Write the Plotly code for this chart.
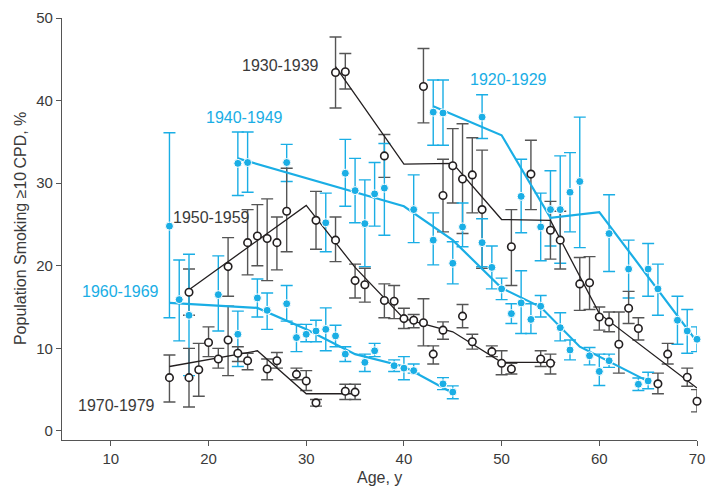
import plotly.graph_objects as go

BLUE = "#1aaee5"
BLACK = "#231f20"
GRAY = "#555555"

# ---------------- data (age, value, lower CI, upper CI) ----------------
age_1920 = [43, 44, 48, 52, 54, 55, 56, 57, 58, 61, 63, 65, 66, 68, 69, 70]
val_1920 = [38.6, 38.5, 38.0, 28.4, 24.7, 26.8, 26.8, 28.9, 30.2, 23.9, 19.6, 19.6, 17.2, 13.4, 12.1, 11.1]
lo_1920 = [34.6, 34.6, 35.4, 24.0, 20.6, 22.4, 20.3, 24.1, 22.2, 19.3, 16.1, 16.3, 14.0, 10.5, 9.4, 9.6]
hi_1920 = [42.5, 42.5, 40.7, 32.9, 28.8, 31.5, 33.3, 33.7, 38.0, 28.6, 23.1, 22.7, 20.2, 16.3, 14.7, 12.6]
fitx_1920 = [43, 50, 55, 60, 70]
fity_1920 = [39.3, 35.8, 25.8, 26.5, 10.8]

age_1930 = [33, 34, 38, 42, 44, 45, 46, 47, 48, 51, 53, 55, 56, 58, 59, 60, 61, 62, 63, 64, 66, 67, 69, 70]
val_1930 = [43.4, 43.5, 33.3, 41.7, 28.5, 32.1, 30.5, 31.0, 26.8, 22.3, 31.1, 24.3, 23.1, 17.8, 17.95, 13.8, 13.2, 10.5, 14.85, 12.4, 5.7, 9.3, 6.5, 3.6]
lo_1930 = [39.1, 41.4, 30.7, 37.3, 24.1, 27.6, 23.9, 26.4, 19.7, 17.6, 26.8, 20.8, 19.6, 14.6, 14.7, 12.2, 12.0, 7.0, 13.0, 11.0, 4.5, 8.1, 5.4, 2.3]
hi_1930 = [47.7, 45.7, 35.9, 46.3, 32.9, 36.6, 37.2, 35.5, 34.0, 26.8, 35.2, 27.8, 26.6, 21.0, 21.1, 15.0, 14.4, 14.4, 16.9, 13.7, 7.0, 10.6, 7.6, 5.0]
fitx_1930 = [33, 40, 45, 50, 55, 60, 70]
fity_1930 = [44.1, 32.3, 32.4, 25.6, 25.5, 14.2, 5.2]

age_1940 = [23, 24, 28, 32, 34, 35, 36, 37, 38, 41, 43, 45, 46, 48, 49, 50, 51, 52, 53, 54, 56, 57, 59, 60, 61, 64, 65]
val_1940 = [32.4, 32.5, 32.5, 25.2, 31.2, 29.1, 25.1, 28.7, 29.4, 26.8, 23.1, 20.3, 24.7, 22.8, 19.8, 17.2, 14.2, 15.5, 13.5, 15.1, 12.5, 9.8, 9.1, 7.2, 8.5, 5.65, 6.05]
lo_1940 = [28.5, 28.9, 30.2, 21.7, 27.2, 25.2, 19.9, 24.8, 23.7, 22.8, 20.1, 17.8, 22.3, 19.9, 17.2, 15.9, 13.0, 11.8, 11.8, 13.8, 10.9, 8.6, 8.0, 5.5, 7.7, 4.9, 5.1]
hi_1940 = [36.2, 36.2, 34.7, 28.8, 35.3, 33.0, 30.4, 32.5, 34.8, 31.0, 26.4, 22.9, 27.6, 25.7, 22.4, 18.5, 15.4, 19.4, 15.4, 16.4, 14.3, 11.0, 10.1, 9.3, 9.3, 6.4, 7.1]
fitx_1940 = [23, 40, 45, 50, 54, 58, 65]
fity_1940 = [33.0, 27.2, 23.1, 17.3, 15.0, 10.2, 6.0]

age_1950 = [18, 22, 24, 25, 26, 27, 28, 31, 33, 35, 36, 38, 39, 40, 41, 42, 43, 44, 46, 47, 49, 50, 51, 54, 55]
val_1950 = [16.8, 19.9, 22.8, 23.6, 23.3, 22.8, 26.6, 25.5, 23.1, 18.2, 17.7, 15.8, 15.7, 13.6, 13.4, 13.1, 9.3, 12.2, 13.9, 10.8, 9.6, 8.2, 7.5, 8.7, 8.2]
lo_1950 = [14.0, 16.3, 18.9, 20.0, 18.2, 19.5, 21.7, 22.0, 20.5, 16.1, 15.6, 13.7, 13.6, 12.4, 12.5, 10.3, 8.1, 11.1, 12.5, 9.9, 9.0, 6.8, 6.9, 7.8, 6.9]
hi_1950 = [19.6, 23.4, 26.8, 27.4, 28.1, 25.9, 31.8, 29.0, 25.9, 20.2, 19.7, 17.8, 17.6, 14.85, 14.1, 16.0, 10.3, 13.2, 15.3, 11.7, 10.3, 9.7, 8.2, 9.7, 9.3]
fitx_1950 = [18, 30, 35, 40, 45, 50, 55.5]
fity_1950 = [17.1, 27.3, 19.8, 13.6, 12.0, 8.3, 8.3]

age_1960 = [16, 17, 18, 21, 23, 25, 26, 28, 29, 30, 31, 32, 33, 34, 36, 37, 39, 40, 41, 44, 45]
val_1960 = [24.8, 15.9, 14.0, 16.5, 11.7, 16.1, 14.6, 15.4, 11.3, 11.7, 12.1, 12.3, 11.5, 9.3, 8.3, 9.7, 7.9, 7.6, 7.3, 5.7, 4.7]
lo_1960 = [13.7, 10.9, 6.7, 12.1, 7.8, 13.8, 12.3, 13.3, 9.6, 10.8, 10.8, 9.7, 10.2, 8.4, 7.2, 9.0, 7.2, 6.2, 7.0, 5.0, 3.9]
hi_1960 = [36.1, 20.7, 21.4, 21.2, 14.5, 18.4, 16.7, 17.6, 12.9, 12.9, 13.4, 14.9, 12.8, 10.2, 9.3, 10.6, 8.6, 9.0, 8.1, 6.45, 5.45]
fitx_1960 = [16, 25, 30, 35, 40, 45]
fity_1960 = [15.5, 14.9, 12.3, 9.3, 7.8, 4.6]

age_1970 = [16, 18, 19, 20, 21, 22, 23, 24, 26, 27, 29, 30, 31, 34, 35]
val_1970 = [6.45, 6.45, 7.4, 10.7, 8.7, 11.0, 9.4, 8.5, 7.5, 8.5, 6.85, 6.05, 3.4, 4.8, 4.7]
lo_1970 = [3.5, 2.9, 4.2, 9.0, 7.6, 6.7, 8.4, 7.4, 6.2, 7.6, 6.2, 4.9, 3.0, 3.8, 3.8]
hi_1970 = [9.2, 10.0, 10.6, 12.6, 10.0, 15.1, 10.2, 9.4, 8.7, 9.5, 7.6, 7.3, 3.8, 5.65, 5.65]
fitx_1970 = [16, 25, 30, 35]
fity_1970 = [7.8, 9.7, 4.5, 4.5]

x_ticks = [10, 20, 30, 40, 50, 60, 70]
y_ticks = [0, 10, 20, 30, 40, 50]

series = [
    ("1920-1929", age_1920, val_1920, lo_1920, hi_1920, fitx_1920, fity_1920, True),
    ("1930-1939", age_1930, val_1930, lo_1930, hi_1930, fitx_1930, fity_1930, False),
    ("1940-1949", age_1940, val_1940, lo_1940, hi_1940, fitx_1940, fity_1940, True),
    ("1950-1959", age_1950, val_1950, lo_1950, hi_1950, fitx_1950, fity_1950, False),
    ("1960-1969", age_1960, val_1960, lo_1960, hi_1960, fitx_1960, fity_1960, True),
    ("1970-1979", age_1970, val_1970, lo_1970, hi_1970, fitx_1970, fity_1970, False),
]

fig = go.Figure()

# error bars first
for name, ax, v, lo, hi, fx, fy, blue in series:
    fig.add_trace(go.Scatter(
        x=ax, y=v, mode="markers", showlegend=False, hoverinfo="skip",
        marker=dict(size=1, opacity=0),
        error_y=dict(type="data", symmetric=False,
                     array=[h - a for h, a in zip(hi, v)],
                     arrayminus=[a - l for a, l in zip(v, lo)],
                     color=BLUE if blue else GRAY, thickness=1.4, width=6),
        cliponaxis=False,
    ))

# fitted lines
for name, ax, v, lo, hi, fx, fy, blue in series:
    fig.add_trace(go.Scatter(
        x=fx, y=fy, mode="lines", showlegend=False,
        line=dict(color=BLUE if blue else BLACK, width=2.2 if blue else 1.3),
        cliponaxis=False,
    ))

# markers
for name, ax, v, lo, hi, fx, fy, blue in series:
    if blue:
        mk = dict(symbol="circle", size=8, color=BLUE, line=dict(width=1, color="white"))
    else:
        mk = dict(symbol="circle", size=7.5, color="white", line=dict(width=1.6, color=BLACK))
    fig.add_trace(go.Scatter(
        x=ax, y=v, mode="markers", name=name, showlegend=False,
        marker=mk, cliponaxis=False,
    ))

labels = [
    ("1930-1939", 23.3, 44.2, "#3a3a3a"),
    ("1920-1929", 46.7, 42.5, BLUE),
    ("1940-1949", 19.6, 38.0, BLUE),
    ("1950-1959", 16.3, 25.8, "#3a3a3a"),
    ("1960-1969", 6.9, 16.9, BLUE),
    ("1970-1979", 6.5, 3.1, "#3a3a3a"),
]
for t, x, y, c in labels:
    fig.add_annotation(x=x, y=y, text=t, showarrow=False, xanchor="left", yanchor="middle",
                       font=dict(size=16, color=c, family="Liberation Sans"), borderpad=0)

# axis titles
fig.add_annotation(xref="paper", yref="paper", x=0.5, y=-0.09, yanchor="middle",
                   text="Age, y", showarrow=False, font=dict(size=16, color="#3a3a3a"))
fig.add_annotation(xref="paper", yref="paper", x=-0.066, y=0.5, xanchor="center",
                   textangle=-90, text="Population Smoking \u226510\u2009CPD, %",
                   showarrow=False, font=dict(size=16, color="#3a3a3a"))

axis_common = dict(showline=True, linecolor="#555555", linewidth=1.2, ticks="outside",
                   ticklen=5, tickcolor="#555555", tickwidth=1.2, showgrid=False, zeroline=False,
                   tickfont=dict(size=15, color="#3a3a3a"), automargin=False)

fig.update_layout(
    width=709, height=487,
    margin=dict(l=62, r=12, t=18, b=47),
    plot_bgcolor="white", paper_bgcolor="white",
    font=dict(family="Liberation Sans", color="#3a3a3a"),
    xaxis=dict(range=[5, 70], tickvals=x_ticks, **axis_common),
    yaxis=dict(range=[-1.1, 50], tickvals=y_ticks, **axis_common),
)

fig.write_html("out.html", config={"displayModeBar": False},
               post_script="document.body.style.margin='0';document.body.style.overflow='hidden';")
